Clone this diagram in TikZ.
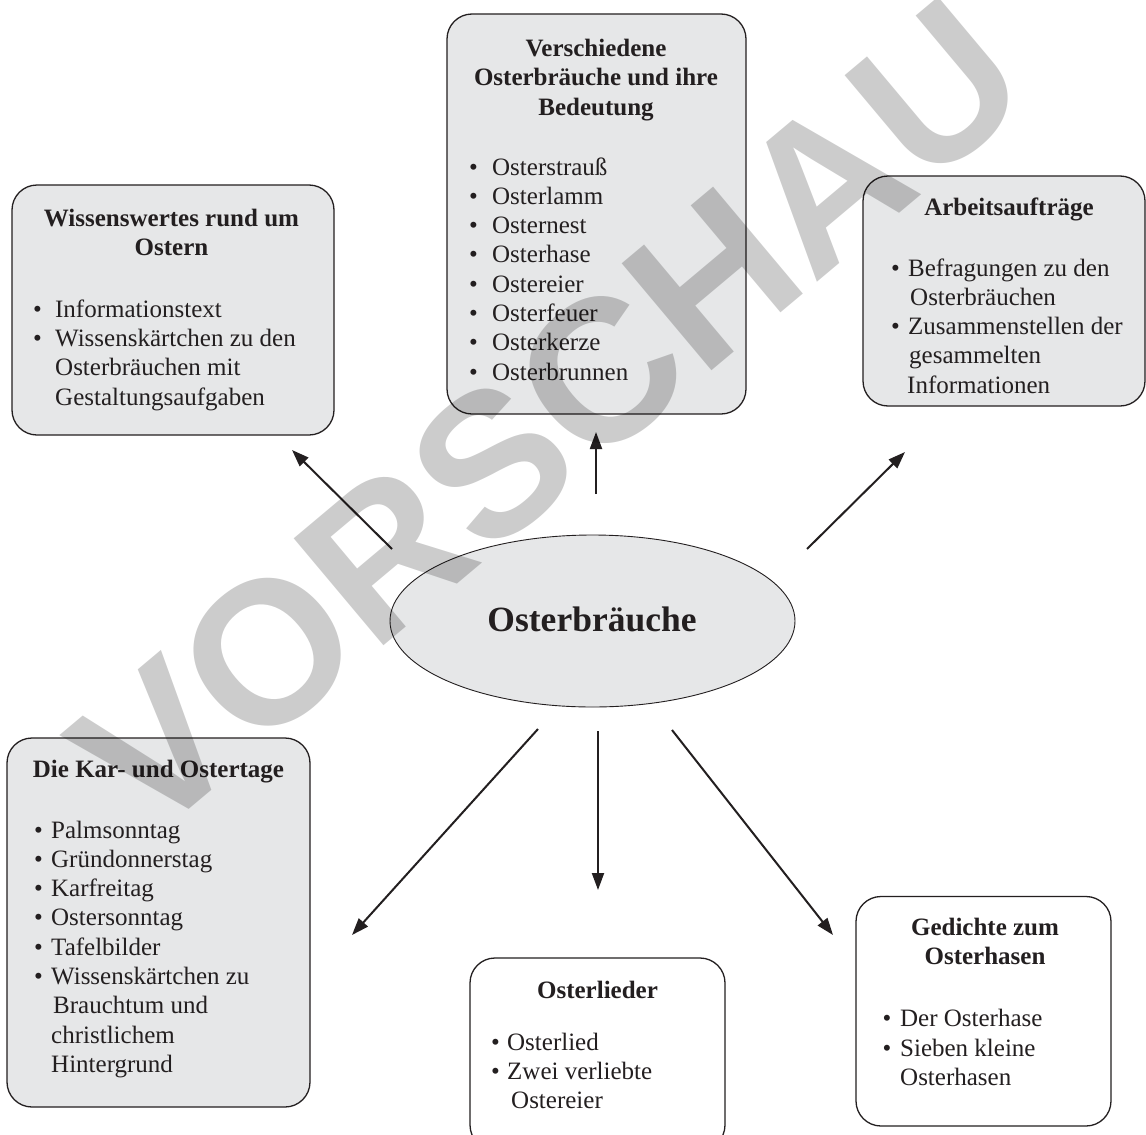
\documentclass[tikz,border=0pt]{standalone}
\usepackage{fontspec}
\setmainfont{Liberation Serif}
\newfontfamily\wmfont{Liberation Sans}
\usetikzlibrary{shapes.geometric,arrows.meta}
\definecolor{boxgrey}{RGB}{230,231,232}
\definecolor{ink}{RGB}{35,31,32}
\newcommand{\itm}[1]{\makebox[#1][l]{\textbullet}}
\newcommand{\cont}[1]{\hspace*{#1}}
\tikzset{
  gbox/.style={rectangle, draw=ink, line width=1.3pt, fill=boxgrey, rounded corners=25pt, inner sep=0pt},
  wbox/.style={gbox, fill=white},
  titletxt/.style={anchor=base, inner sep=0pt, text=ink, font=\bfseries\fontsize{25}{29.2}\selectfont},
  listtxt/.style={anchor=base west, inner sep=0pt, text=ink, font=\fontsize{25}{29.3}\selectfont},
  arr/.style={draw=ink, line width=2pt, -{Triangle[length=17pt,width=12pt]}},
}
\begin{document}
\begin{tikzpicture}[x=1pt,y=-1pt]
\clip (0,0) rectangle (1146,1135);
\fill[white] (0,0) rectangle (1146,1135);

% boxes
\node[gbox, minimum width=322pt, minimum height=250pt] (b1) at (173,310) {};
\node[gbox, minimum width=299pt, minimum height=400pt] (b2) at (596.5,214) {};
\node[gbox, minimum width=282pt, minimum height=230pt] (b3) at (1004,291) {};
\node[gbox, minimum width=303pt, minimum height=369pt] (b4) at (158.5,922.5) {};
\node[wbox, minimum width=255pt, minimum height=192pt] (b5) at (597.5,1054) {};
\node[wbox, minimum width=255pt, minimum height=229.5pt] (b6) at (983.5,1011.25) {};

% centre ellipse
\node[ellipse, draw=ink, line width=0.9pt, fill=boxgrey, minimum width=405pt, minimum height=172pt, inner sep=0pt] (ell) at (592.5,621) {};
\node[anchor=base, inner sep=0pt, text=ink, font=\bfseries\fontsize{35.5}{40}\selectfont] (ellt) at (592,631.5) {Osterbräuche};

% box 1
\node[titletxt] (t1) at (171.5,226.7) {\parbox[t]{320pt}{\centering Wissenswertes rund um\\ Ostern}};
\node[listtxt] (l1) at (33,317.3) {\parbox[t]{300pt}{\raggedright
  \itm{22pt}Informationstext\\
  \itm{22pt}Wissenskärtchen zu den\\
  \cont{22pt}Osterbräuchen mit\\
  \cont{22pt}Gestaltungsaufgaben}};

% box 2
\node[titletxt] (t2) at (596,56.7) {\parbox[t]{295pt}{\centering Verschiedene\\ Osterbräuche und ihre\\ Bedeutung}};
\node[listtxt] (l2) at (469,175) {\parbox[t]{260pt}{\raggedright
  \itm{23pt}Osterstrauß\\
  \itm{23pt}Osterlamm\\
  \itm{23pt}Osternest\\
  \itm{23pt}Osterhase\\
  \itm{23pt}Ostereier\\
  \itm{23pt}Osterfeuer\\
  \itm{23pt}Osterkerze\\
  \itm{23pt}Osterbrunnen}};

% box 3
\node[titletxt] (t3) at (1009,215) {\parbox[t]{270pt}{\centering Arbeitsaufträge}};
\node[listtxt] (l3) at (891,276) {\parbox[t]{250pt}{\raggedright
  \itm{17pt}Befragungen zu den\\
  \cont{19pt}Osterbräuchen\\
  \itm{17pt}Zusammenstellen der\\
  \cont{18pt}gesammelten\\
  \cont{16pt}Informationen}};

% box 4
\node[titletxt] (t4) at (158.5,777.7) {\parbox[t]{300pt}{\centering Die Kar- und Ostertage}};
\node[listtxt] (l4) at (34,838) {\parbox[t]{270pt}{\raggedright
  \itm{17pt}Palmsonntag\\
  \itm{17pt}Gründonnerstag\\
  \itm{17pt}Karfreitag\\
  \itm{17pt}Ostersonntag\\
  \itm{17pt}Tafelbilder\\
  \itm{17pt}Wissenskärtchen zu\\
  \cont{19pt}Brauchtum und\\
  \cont{17pt}christlichem\\
  \cont{17pt}Hintergrund}};

% box 5
\node[titletxt] (t5) at (597.5,998.3) {\parbox[t]{250pt}{\centering Osterlieder}};
\node[listtxt] (l5) at (491,1050) {\parbox[t]{230pt}{\raggedright
  \itm{16pt}Osterlied\\
  \itm{16pt}Zwei verliebte\\
  \cont{20pt}Ostereier}};

% box 6
\node[titletxt] (t6) at (985,935) {\parbox[t]{250pt}{\centering Gedichte zum\\ Osterhasen}};
\node[listtxt] (l6) at (882.5,1026.7) {\parbox[t]{220pt}{\raggedright
  \itm{17.5pt}Der Osterhase\\
  \itm{17.5pt}Sieben kleine\\
  \cont{17.5pt}Osterhasen}};

% connector ends
\coordinate (a1s) at (392,549); \coordinate (a1e) at (292,450);
\coordinate (a2s) at (596,494); \coordinate (a2e) at (596,432);
\coordinate (a3s) at (807,549); \coordinate (a3e) at (905,452);
\coordinate (a4s) at (538,729); \coordinate (a4e) at (352,935);
\coordinate (a5s) at (598,731); \coordinate (a5e) at (598,890);
\coordinate (a6s) at (672,730); \coordinate (a6e) at (833,935);
\draw[arr] (a1s) -- (a1e);
\draw[arr] (a2s) -- (a2e);
\draw[arr] (a3s) -- (a3e);
\draw[arr] (a4s) -- (a4e);
\draw[arr] (a5s) -- (a5e);
\draw[arr] (a6s) -- (a6e);

% watermark
\node[anchor=base west, inner sep=0pt, rotate=40, text=black, text opacity=0.2,
      font=\wmfont\bfseries\fontsize{203}{203}\selectfont] (wm) at (148.2,843.5) {VORSCHAU};
\end{tikzpicture}
\end{document}
